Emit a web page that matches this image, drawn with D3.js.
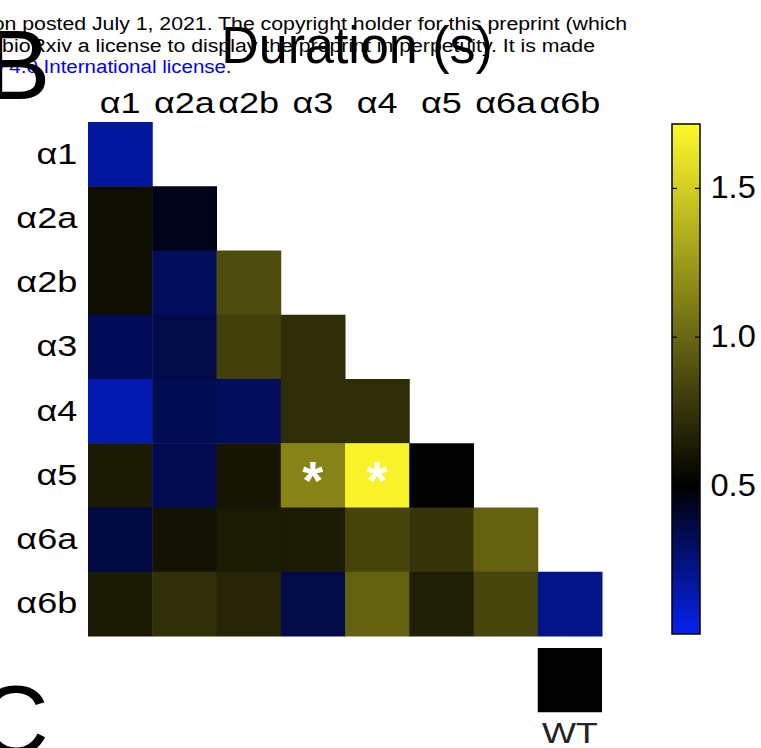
<!DOCTYPE html>
<html>
<head>
<meta charset="utf-8">
<script src="https://cdn.jsdelivr.net/npm/d3@7"></script>
<style>
  body { margin: 0; background: #fff; }
  svg { display: block; font-family: "Liberation Sans", Arial, sans-serif; }
</style>
</head>
<body>
<svg id="chart"></svg>
<script>
// receptor subunits (rows and columns)
const subunits = ["α1", "α2a", "α2b", "α3", "α4", "α5", "α6a", "α6b"];

// lower-triangular duration matrix, row i holds columns 0..i (seconds)
const durationRows = [
  [0.17],
  [0.57, 0.45],
  [0.57, 0.31, 0.87],
  [0.32, 0.35, 0.81, 0.72],
  [0.13, 0.33, 0.31, 0.72, 0.72],
  [0.62, 0.34, 0.60, 1.14, 1.68, 0.50],
  [0.36, 0.59, 0.63, 0.63, 0.83, 0.75, 0.97],
  [0.62, 0.73, 0.68, 0.35, 0.97, 0.65, 0.84, 0.21]
];

// pairs marked with an asterisk [row, column]
const significant = [["α5", "α3"], ["α5", "α4"]];

const wtLabel = "WT";
const wtDuration = 0.50;

const colorStops = [0, 0.5, 1.715];
const colorTicks = [0.5, 1.0, 1.5];

const headerLines = [
  "this version posted July 1, 2021. The copyright holder for this preprint (which",
  "was not certified by peer review) is the author/funder, who has granted bioRxiv a license to display the preprint in perpetuity. It is made"
];
const headerLink = "available under aCC-BY-NC-ND 4.0 International license";

const width = 761, height = 748;
const stretch = 1.12;   // header text is wider than plain Arial

const svg = d3.select("#chart")
  .attr("width", width)
  .attr("height", height);

// header text of the preprint page (cut off at the left edge)
const header = svg.append("g").attr("font-size", 19);
header.selectAll(".hdr")
  .data(headerLines)
  .join("text")
  .attr("class", "hdr")
  .attr("transform", (d, i) => `translate(${i === 0 ? 627 : 595},${30 + i * 21.5}) scale(${stretch},1)`)
  .attr("text-anchor", "end")
  .attr("fill", "#000")
  .text(d => d);
header.append("text")
  .attr("transform", `translate(226,73) scale(1.08,1)`)
  .attr("text-anchor", "end")
  .attr("fill", "#0000ff")
  .text(headerLink);
header.append("text")
  .attr("x", 226)
  .attr("y", 73)
  .attr("fill", "#000")
  .text(".");

// panel letters
svg.append("text")
  .attr("x", -15)
  .attr("y", 99)
  .attr("font-size", 98)
  .text("B");
svg.append("text")
  .attr("x", -22)
  .attr("y", 754)
  .attr("font-size", 98)
  .text("C");

// title
svg.append("text")
  .attr("x", 357)
  .attr("y", 63)
  .attr("text-anchor", "middle")
  .attr("font-size", 52)
  .text("Duration (s)");

const grid = {left: 88, top: 122, size: 514};

const x = d3.scaleBand()
  .domain(subunits)
  .range([grid.left, grid.left + grid.size]);

const y = d3.scaleBand()
  .domain(subunits)
  .range([grid.top, grid.top + grid.size]);

const color = d3.scaleLinear()
  .domain(colorStops)
  .range(["#0522f0", "#000000", "#fffa2a"])
  .clamp(true);

const cells = [];
durationRows.forEach((row, i) => {
  row.forEach((v, j) => cells.push({row: subunits[i], col: subunits[j], value: v}));
});

svg.append("g")
  .selectAll("rect")
  .data(cells)
  .join("rect")
  .attr("x", d => x(d.col))
  .attr("y", d => y(d.row))
  .attr("width", x.bandwidth() + 0.5)
  .attr("height", y.bandwidth() + 0.5)
  .attr("fill", d => color(d.value));

// asterisks
svg.append("g")
  .selectAll("text")
  .data(significant)
  .join("text")
  .attr("x", d => x(d[1]) + x.bandwidth() / 2)
  .attr("y", d => y(d[0]) + y.bandwidth() / 2 + 24)
  .attr("text-anchor", "middle")
  .attr("font-size", 54)
  .attr("font-weight", "bold")
  .attr("fill", "#fff")
  .text("*");

// axes labels
const labelStretch = 1.2;
const xAxis = d3.axisTop(x).tickSize(0).tickPadding(9);
const yAxis = d3.axisLeft(y).tickSize(0).tickPadding(9);

const xAxisG = svg.append("g")
  .attr("transform", `translate(0,${grid.top})`)
  .call(xAxis);
const yAxisG = svg.append("g")
  .attr("transform", `translate(${grid.left},0)`)
  .call(yAxis);
[xAxisG, yAxisG].forEach(g => {
  g.select(".domain").remove();
  g.selectAll("text")
    .attr("font-family", "Liberation Sans, Arial, sans-serif")
    .attr("font-size", 30)
    .attr("fill", "#000")
    .attr("transform", `scale(${labelStretch},1)`);
});

// wild type cell
const wtX = x(subunits[subunits.length - 1]);
svg.append("rect")
  .attr("x", wtX)
  .attr("y", 648)
  .attr("width", x.bandwidth())
  .attr("height", y.bandwidth())
  .attr("fill", color(wtDuration));
svg.append("text")
  .attr("transform", `translate(${wtX + x.bandwidth() / 2},743) scale(${labelStretch},1)`)
  .attr("text-anchor", "middle")
  .attr("font-size", 30)
  .attr("fill", "#222")
  .text(wtLabel);

// colorbar
const cb = {x: 672, w: 28, top: 124, bottom: 634};
const cScale = d3.scaleLinear()
  .domain([colorStops[0], colorStops[colorStops.length - 1]])
  .range([cb.bottom, cb.top]);

const defs = svg.append("defs");
const grad = defs.append("linearGradient")
  .attr("id", "cbgrad")
  .attr("x1", 0).attr("y1", 1)
  .attr("x2", 0).attr("y2", 0);
grad.selectAll("stop")
  .data(colorStops)
  .join("stop")
  .attr("offset", d => (d - colorStops[0]) / (colorStops[colorStops.length - 1] - colorStops[0]))
  .attr("stop-color", d => color(d));

svg.append("rect")
  .attr("x", cb.x)
  .attr("y", cb.top)
  .attr("width", cb.w)
  .attr("height", cb.bottom - cb.top)
  .attr("fill", "url(#cbgrad)")
  .attr("stroke", "#000")
  .attr("stroke-width", 1.5);

const cAxisR = d3.axisRight(cScale).tickValues(colorTicks).tickSize(-5).tickPadding(10)
  .tickFormat(d3.format(".1f"));
const cAxisG = svg.append("g")
  .attr("transform", `translate(${cb.x + cb.w},0)`)
  .call(cAxisR);
cAxisG.select(".domain").remove();
cAxisG.selectAll("line").attr("stroke", "#000").attr("stroke-width", 1.2);
cAxisG.selectAll("text")
  .attr("font-family", "Liberation Sans, Arial, sans-serif")
  .attr("font-size", 31)
  .attr("fill", "#000")
  .attr("transform", "scale(1.05,1)");

const cAxisL = d3.axisLeft(cScale).tickValues(colorTicks).tickSize(-5).tickFormat("");
const cAxisLG = svg.append("g")
  .attr("transform", `translate(${cb.x},0)`)
  .call(cAxisL);
cAxisLG.select(".domain").remove();
cAxisLG.selectAll("line").attr("stroke", "#000").attr("stroke-width", 1.2);
</script>
</body>
</html>
